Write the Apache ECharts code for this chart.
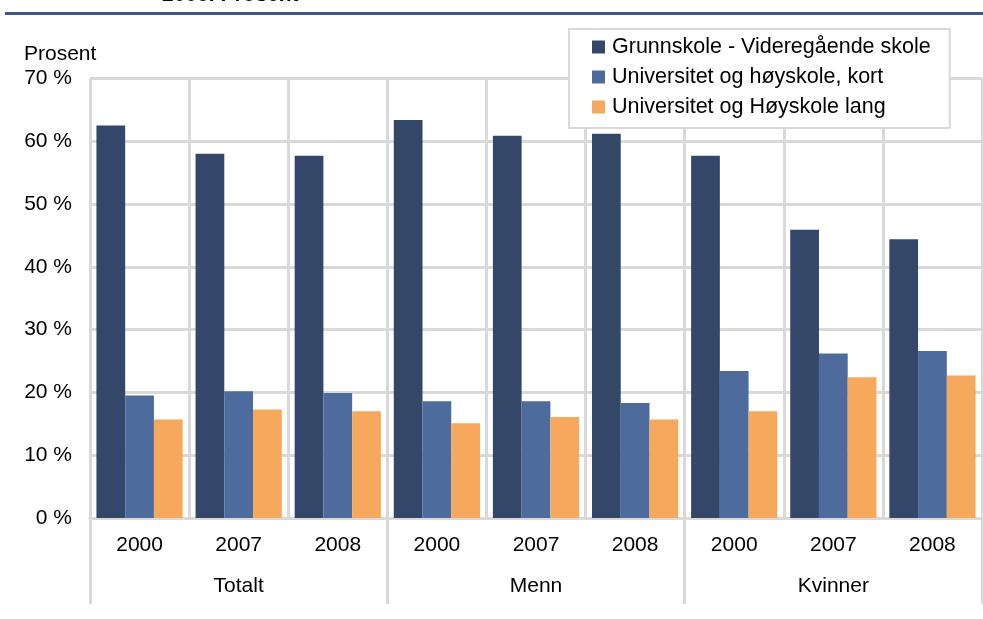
<!DOCTYPE html>
<html>
<head>
<meta charset="utf-8">
<script src="https://cdn.jsdelivr.net/npm/echarts@6/dist/echarts.min.js"></script>
<style>
  html, body { margin: 0; padding: 0; background: #fff; }
  #chart { width: 983px; height: 619px; }
</style>
</head>
<body>
<div id="chart"></div>
<script>
// x axis: years inside each group
const years = ["2000", "2007", "2008", "2000", "2007", "2008", "2000", "2007", "2008"];
const groups = ["Totalt", "Menn", "Kvinner"];
const seriesNames = [
  "Grunnskole - Videregående skole",
  "Universitet og høyskole, kort",
  "Universitet og Høyskole lang"
];
// percent values
const grunnskole = [62.5, 58.0, 57.7, 63.4, 60.9, 61.2, 57.7, 45.9, 44.4];
const hoyskoleKort = [19.5, 20.2, 19.9, 18.6, 18.6, 18.3, 23.4, 26.2, 26.6];
const hoyskoleLang = [15.7, 17.3, 17.0, 15.1, 16.1, 15.7, 17.0, 22.4, 22.7];
const yTicks = [0, 10, 20, 30, 40, 50, 60, 70];

const colors = ["#344768", "#4e6b9d", "#f6a95d"];
const gridColor = "#d9d9d9";
const font = "Liberation Sans, Arial, sans-serif";

const chart = echarts.init(document.getElementById("chart"));

chart.setOption({
  animation: false,
  textStyle: { fontFamily: font },
  grid: { left: 90, right: 1, top: 78.5, bottom: 101 },
  legend: {
    orient: "vertical",
    left: 569,
    top: 29,
    padding: [7, 19, 10, 23],
    itemGap: 8,
    itemWidth: 13,
    itemHeight: 13,
    icon: "rect",
    backgroundColor: "#fff",
    borderColor: gridColor,
    borderWidth: 2,
    textStyle: { fontSize: 21.5, color: "#000", fontFamily: font, lineHeight: 21, padding: [0, 0, 0, 2] },
    data: seriesNames
  },
  graphic: [
    {
      type: "line",
      shape: { x1: 5, y1: 13.5, x2: 983, y2: 13.5 },
      style: { stroke: "#3d5a8a", lineWidth: 3 }
    },
    {
      type: "text",
      left: 162,
      top: -15,
      style: { text: "2008. Prosent", font: "bold 21px " + font, fill: "#000" }
    },
    {
      type: "text",
      left: 24,
      top: 44,
      style: { text: "Prosent", font: "21px " + font, fill: "#000" }
    }
  ],
  xAxis: [
    {
      type: "category",
      data: years,
      position: "bottom",
      axisLine: { lineStyle: { color: gridColor, width: 3 } },
      axisTick: { show: false },
      splitLine: { show: true, lineStyle: { color: gridColor, width: 3 } },
      axisLabel: { fontSize: 21, color: "#000", margin: 17, interval: 0 }
    },
    {
      type: "category",
      data: groups,
      position: "bottom",
      axisLine: { show: false },
      axisTick: { show: true, length: 86, lineStyle: { color: gridColor, width: 3 } },
      axisLabel: { fontSize: 21, color: "#000", margin: 58 }
    }
  ],
  yAxis: {
    type: "value",
    min: yTicks[0],
    max: yTicks[yTicks.length - 1],
    interval: 10,
    axisLine: { show: false },
    axisTick: { show: false },
    splitLine: { lineStyle: { color: gridColor, width: 3 } },
    axisLabel: { fontSize: 21, color: "#000", margin: 18, formatter: "{value} %" }
  },
  series: [
    { name: seriesNames[0], type: "bar", data: grunnskole, color: colors[0], barGap: 0, barCategoryGap: "13%" },
    { name: seriesNames[1], type: "bar", data: hoyskoleKort, color: colors[1], barGap: 0, barCategoryGap: "13%" },
    { name: seriesNames[2], type: "bar", data: hoyskoleLang, color: colors[2], barGap: 0, barCategoryGap: "13%" }
  ]
});
</script>
</body>
</html>
